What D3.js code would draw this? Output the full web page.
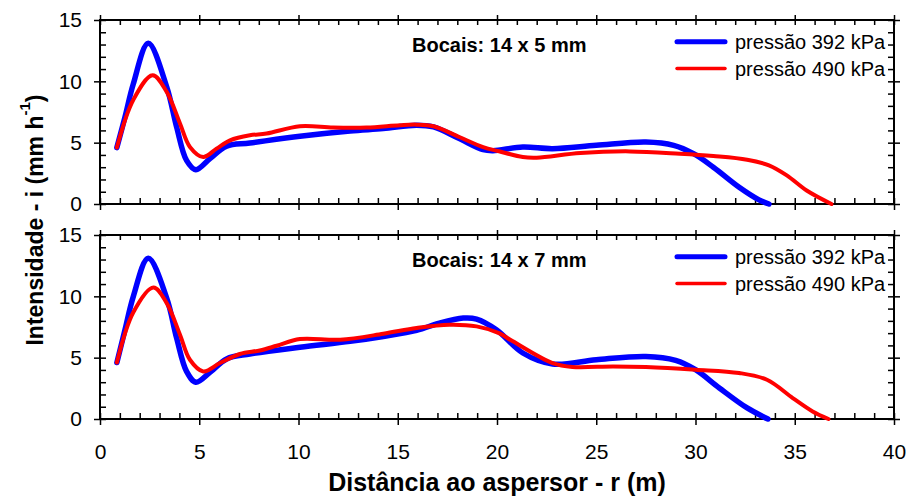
<!DOCTYPE html>
<html>
<head>
<meta charset="utf-8">
<script src="https://cdn.jsdelivr.net/npm/d3@7"></script>
<style>
  body { margin: 0; background: white; }
  svg { font-family: 'Liberation Sans', Arial, sans-serif; }
</style>
</head>
<body>
<div id="chart"></div>
<script>

// distances (m) and intensities (mm h-1)
// nozzles 14 x 5 mm
let dist5_392 = [0.85, 1.26, 1.68, 2.43, 3.36, 3.86, 4.36, 4.83, 5.54, 6.38, 7.55, 10.07, 12.6, 14.27, 15.95, 16.8, 18.1, 19.3, 19.8, 21.3, 22.8, 25.0, 27.5, 28.9, 29.9, 30.9, 32.2, 33.2, 33.7]
let int5_392  = [4.6, 7.1, 9.8, 13.1, 9.55, 6.28, 3.56, 2.8, 3.7, 4.72, 4.97, 5.52, 5.95, 6.15, 6.42, 6.28, 5.33, 4.43, 4.35, 4.64, 4.51, 4.78, 5.05, 4.78, 4.1, 3.0, 1.37, 0.34, 0]
let dist5_490 = [0.85, 1.68, 2.65, 3.36, 4.03, 4.53, 5.2, 5.87, 6.55, 7.55, 8.39, 10.07, 11.75, 13.43, 15.1, 15.95, 16.8, 18.1, 19.3, 20.1, 21.3, 22.0, 24.2, 26.7, 29.2, 30.9, 32.6, 33.7, 34.6, 35.6, 36.85]
let int5_490  = [4.6, 8.5, 10.5, 9.14, 6.56, 4.65, 3.83, 4.51, 5.19, 5.6, 5.74, 6.34, 6.23, 6.23, 6.42, 6.47, 6.34, 5.46, 4.64, 4.3, 3.83, 3.78, 4.16, 4.29, 4.1, 3.91, 3.61, 3.15, 2.33, 1.1, 0]

// nozzles 14 x 7 mm
let dist7_392 = [0.85, 1.26, 1.68, 2.43, 3.36, 3.86, 4.36, 4.83, 5.54, 6.38, 7.55, 10.07, 12.6, 14.27, 15.95, 17.1, 18.3, 18.97, 19.97, 21.3, 22.8, 25.0, 27.5, 29.0, 30.0, 31.2, 32.6, 33.65]
let int7_392  = [4.6, 7.28, 10.0, 13.1, 9.86, 6.6, 3.88, 3.0, 3.8, 4.9, 5.3, 5.85, 6.33, 6.73, 7.22, 7.82, 8.23, 8.15, 7.28, 5.38, 4.48, 4.83, 5.1, 4.78, 4.02, 2.53, 0.9, 0]
let dist7_490 = [0.85, 1.68, 2.69, 3.36, 4.03, 4.53, 5.2, 6.04, 7.05, 8.05, 8.9, 10.07, 12.1, 14.27, 15.95, 17.6, 18.97, 20.1, 20.8, 22.8, 23.8, 25.85, 27.5, 30.0, 32.2, 33.6, 34.9, 35.9, 36.7]
let int7_490  = [4.6, 8.7, 10.72, 9.45, 6.87, 4.83, 3.88, 4.56, 5.3, 5.59, 5.97, 6.52, 6.46, 6.95, 7.42, 7.69, 7.55, 7.0, 6.33, 4.56, 4.24, 4.29, 4.24, 4.02, 3.75, 3.2, 1.71, 0.62, 0]

let xTicks = [0, 5, 10, 15, 20, 25, 30, 35, 40]
let yTicks = [0, 5, 10, 15]
let seriesNames = ['pressão 392 kPa', 'pressão 490 kPa']
let panelTitles = ['Bocais: 14 x 5 mm', 'Bocais: 14 x 7 mm']

let colors = ['#0000ff', '#ff0000']
let lineWidths = [5.5, 4]

let panels = [
   { title: panelTitles[0], top: 20, bottom: 204, series: [ d3.zip(dist5_392, int5_392), d3.zip(dist5_490, int5_490) ] },
   { title: panelTitles[1], top: 235, bottom: 419, series: [ d3.zip(dist7_392, int7_392), d3.zip(dist7_490, int7_490) ] }
]

let svg = d3.select('#chart')
   .append('svg')
      .attr('width', 906)
      .attr('height', 497)

let x = d3.scaleLinear()
   .domain([0, 40])
   .range([100, 894])

let xMinor = d3.range(0, 41)
let yMinor = d3.range(0, 16)

// strips the axis line, styles the ticks
function cleanAxis(g) {
   g.select('.domain').remove()
   g.selectAll('.tick line').attr('stroke-width', 1.5)
   g.selectAll('text').style('font-size', '21px')
}

panels.forEach((p, pi) => {
   let y = d3.scaleLinear()
      .domain([0, 15])
      .range([p.bottom, p.top])

   let g = svg.append('g')

   // top axis: majors out, minors in
   g.append('g')
      .attr('transform', 'translate(0,' + p.top + ')')
      .call(d3.axisTop(x).tickValues(xTicks).tickSize(5).tickFormat(''))
      .call(cleanAxis)
   g.append('g')
      .attr('transform', 'translate(0,' + p.top + ')')
      .call(d3.axisBottom(x).tickValues(xMinor).tickSize(5).tickFormat(''))
      .call(cleanAxis)

   // bottom axis, labels only on the lower panel
   let bottomAxis = d3.axisBottom(x).tickValues(xTicks).tickSize(6).tickPadding(19)
   if (pi == 0) bottomAxis.tickFormat('')
   g.append('g')
      .attr('transform', 'translate(0,' + p.bottom + ')')
      .call(bottomAxis)
      .call(cleanAxis)
   g.append('g')
      .attr('transform', 'translate(0,' + p.bottom + ')')
      .call(d3.axisTop(x).tickValues(xMinor).tickSize(6).tickFormat(''))
      .call(cleanAxis)

   // left axis
   g.append('g')
      .attr('transform', 'translate(100,0)')
      .call(d3.axisLeft(y).tickValues(yTicks).tickSize(6).tickPadding(12))
      .call(cleanAxis)
   g.append('g')
      .attr('transform', 'translate(100,0)')
      .call(d3.axisRight(y).tickValues(yMinor).tickSize(6).tickFormat(''))
      .call(cleanAxis)

   // right axis
   g.append('g')
      .attr('transform', 'translate(894,0)')
      .call(d3.axisRight(y).tickValues(yTicks).tickSize(6).tickFormat(''))
      .call(cleanAxis)
   g.append('g')
      .attr('transform', 'translate(894,0)')
      .call(d3.axisLeft(y).tickValues(yMinor).tickSize(6).tickFormat(''))
      .call(cleanAxis)

   // frame
   g.append('rect')
      .attr('x', x(0))
      .attr('y', p.top)
      .attr('width', x(40) - x(0))
      .attr('height', p.bottom - p.top)
      .attr('fill', 'none')
      .attr('stroke', 'black')
      .attr('stroke-width', 2)

   let line = d3.line()
      .x(d => x(d[0]))
      .y(d => y(d[1]))
      .curve(d3.curveCatmullRom.alpha(0.5))

   // the two pressure curves
   g.selectAll('.curve')
         .data(p.series)
      .enter().append('path')
         .attr('class', 'curve')
         .attr('d', line)
         .attr('fill', 'none')
         .attr('stroke', (d, i) => colors[i])
         .attr('stroke-width', (d, i) => lineWidths[i])
         .attr('stroke-linecap', 'round')
         .attr('stroke-linejoin', 'round')

   // panel title
   g.append('text')
      .attr('x', 412)
      .attr('y', p.top + 32)
      .style('font-size', '20px')
      .style('font-weight', 'bold')
      .text(p.title)

   // legend
   let leg = g.selectAll('.leg')
         .data(seriesNames)
      .enter().append('g')
         .attr('class', 'leg')
         .attr('transform', (d, i) => 'translate(0,' + (p.top + 21.7 + i * 26.7) + ')')
   leg.append('line')
      .attr('x1', 677)
      .attr('x2', 725)
      .attr('stroke', (d, i) => colors[i])
      .attr('stroke-width', (d, i) => i == 0 ? 5 : 3.5)
      .attr('stroke-linecap', 'round')
   leg.append('text')
      .attr('x', 735)
      .attr('y', 7.5)
      .style('font-size', '20px')
      .text(d => d)
})

// axis titles
svg.append('text')
   .attr('x', 497)
   .attr('y', 491)
   .attr('text-anchor', 'middle')
   .style('font-size', '25px')
   .style('font-weight', 'bold')
   .text('Distância ao aspersor - r (m)')

let yTitle = svg.append('text')
   .attr('transform', 'translate(43,220) rotate(-90)')
   .attr('text-anchor', 'middle')
   .style('font-size', '23px')
   .style('font-weight', 'bold')
yTitle.append('tspan').text('Intensidade - i (mm h')
yTitle.append('tspan').attr('dy', -13).style('font-size', '15px').text('-1')
yTitle.append('tspan').attr('dy', 13).text(')')

</script>
</body>
</html>
